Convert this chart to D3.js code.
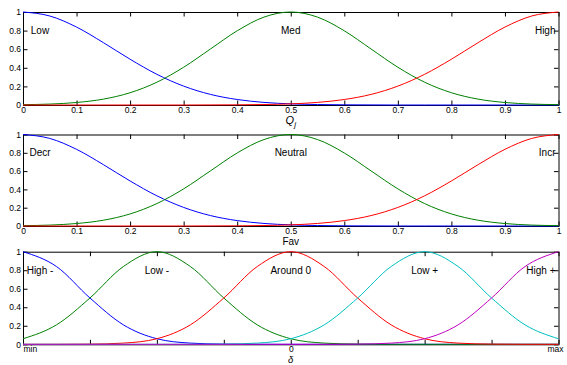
<!DOCTYPE html>
<html>
<head>
<meta charset="utf-8">
<script src="https://cdn.jsdelivr.net/npm/d3@7"></script>
<style>
  html, body { margin: 0; padding: 0; background: #fff; }
  svg { display: block; }
</style>
</head>
<body>
<svg id="chart" width="567" height="365"></svg>
<script>
// Sample points of the membership functions on the normalised universe [0, 1]
const unitGrid = [0, 0.05, 0.1, 0.15, 0.2, 0.25, 0.3, 0.35, 0.4, 0.45, 0.5,
                  0.55, 0.6, 0.65, 0.7, 0.75, 0.8, 0.85, 0.9, 0.95, 1];

// Q_j : Low / Med / High
const qLow  = [1, 0.957, 0.838, 0.671, 0.492, 0.330, 0.203, 0.114, 0.059, 0.028, 0.012,
               0.005, 0.002, 0.001, 0, 0, 0, 0, 0, 0, 0];
const qMed  = [0.004, 0.010, 0.027, 0.063, 0.132, 0.245, 0.406, 0.602, 0.798, 0.945, 1,
               0.945, 0.798, 0.602, 0.406, 0.245, 0.132, 0.063, 0.027, 0.010, 0.004];
const qHigh = [0, 0, 0, 0, 0, 0, 0, 0.001, 0.002, 0.005, 0.012,
               0.028, 0.059, 0.114, 0.203, 0.330, 0.492, 0.671, 0.838, 0.957, 1];

// Fav : Decr / Neutral / Incr
const favDecr    = [1, 0.957, 0.838, 0.671, 0.492, 0.330, 0.203, 0.114, 0.059, 0.028, 0.012,
                    0.005, 0.002, 0.001, 0, 0, 0, 0, 0, 0, 0];
const favNeutral = [0.004, 0.010, 0.027, 0.063, 0.132, 0.245, 0.406, 0.602, 0.798, 0.945, 1,
                    0.945, 0.798, 0.602, 0.406, 0.245, 0.132, 0.063, 0.027, 0.010, 0.004];
const favIncr    = [0, 0, 0, 0, 0, 0, 0, 0.001, 0.002, 0.005, 0.012,
                    0.028, 0.059, 0.114, 0.203, 0.330, 0.492, 0.671, 0.838, 0.957, 1];

// delta : five terms from min to max
const deltaGrid = [0, 0.0625, 0.125, 0.1875, 0.25, 0.3125, 0.375, 0.4375, 0.5,
                   0.5625, 0.625, 0.6875, 0.75, 0.8125, 0.875, 0.9375, 1];
const dHighNeg = [1, 0.84, 0.50, 0.21, 0.06, 0.013, 0.002, 0, 0, 0, 0, 0, 0, 0, 0, 0, 0];
const dLowNeg  = [0.06, 0.21, 0.50, 0.84, 1, 0.84, 0.50, 0.21, 0.06, 0.013, 0.002, 0, 0, 0, 0, 0, 0];
const dAround0 = [0, 0, 0.002, 0.013, 0.06, 0.21, 0.50, 0.84, 1, 0.84, 0.50, 0.21, 0.06, 0.013, 0.002, 0, 0];
const dLowPos  = [0, 0, 0, 0, 0, 0, 0.002, 0.013, 0.06, 0.21, 0.50, 0.84, 1, 0.84, 0.50, 0.21, 0.06];
const dHighPos = [0, 0, 0, 0, 0, 0, 0, 0, 0, 0, 0.002, 0.013, 0.06, 0.21, 0.50, 0.84, 1];

// Term names
const qTerms     = ["Low", "Med", "High"];
const favTerms   = ["Decr", "Neutral", "Incr"];
const deltaTerms = ["High -", "Low -", "Around 0", "Low +", "High +"];

// Tick values and labels
const unitTickValues  = [0, 0.1, 0.2, 0.3, 0.4, 0.5, 0.6, 0.7, 0.8, 0.9, 1];
const unitTickLabels  = ["0", "0.1", "0.2", "0.3", "0.4", "0.5", "0.6", "0.7", "0.8", "0.9", "1"];
const deltaTickValues = [0, 0.125, 0.25, 0.375, 0.5, 0.625, 0.75, 0.875, 1];
const deltaTickLabels = ["min", "", "", "", "0", "", "", "", "max"];
const yTickValues     = [0, 0.2, 0.4, 0.6, 0.8, 1];
const yTickLabels     = ["0", "0.2", "0.4", "0.6", "0.8", "1"];

const palette3 = ["#0000ff", "#008000", "#ff0000"];
const palette5 = ["#0000ff", "#008000", "#ff0000", "#00bfbf", "#bf00bf"];

const svg = d3.select("#chart");
const FONT = "'Liberation Sans', Arial, Helvetica, sans-serif";
const X0 = 23, X1 = 558.5;

function drawPanel(p) {
  const x = d3.scaleLinear().domain([0, 1]).range([X0, X1]);
  const y = d3.scaleLinear().domain([0, 1]).range([p.bottom, p.top]);
  const g = svg.append("g");

  // box
  g.append("rect")
    .attr("x", X0 + 0.5).attr("y", p.top + 0.5)
    .attr("width", X1 - X0).attr("height", p.bottom - p.top)
    .attr("fill", "none").attr("stroke", "#000").attr("stroke-width", 1);

  const styleAxis = sel => {
    sel.select(".domain").remove();
    sel.selectAll(".tick line").attr("stroke", "#000");
    sel.selectAll("text").attr("font-family", FONT).attr("font-size", 8.5).attr("fill", "#000");
  };

  // bottom axis with labels, ticks pointing inward
  const bottom = g.append("g")
    .attr("transform", `translate(0,${p.bottom})`)
    .call(d3.axisBottom(x).tickValues(p.xTicks).tickSize(-4.5).tickPadding(p.xPad)
      .tickFormat((d, i) => p.xLabels[i]))
    .call(styleAxis);
  if (p.edgeLabels) {
    bottom.selectAll(".tick text")
      .attr("text-anchor", (d, i) => i === 0 ? "start" : i === p.xTicks.length - 1 ? "end" : "middle")
      .attr("x", (d, i) => i === 0 ? 0 : i === p.xTicks.length - 1 ? 4.5 : 0);
  }
  g.append("g")
    .attr("transform", `translate(0,${p.top})`)
    .call(d3.axisTop(x).tickValues(p.xTicks).tickSize(-4.5).tickFormat(""))
    .call(styleAxis);

  g.append("g")
    .attr("transform", `translate(${X0},0)`)
    .call(d3.axisLeft(y).tickValues(yTickValues).tickSize(-4.5).tickPadding(2)
      .tickFormat((d, i) => yTickLabels[i]))
    .call(styleAxis);
  g.append("g")
    .attr("transform", `translate(${X1},0)`)
    .call(d3.axisRight(y).tickValues(yTickValues).tickSize(-4.5).tickFormat(""))
    .call(styleAxis);

  // membership curves
  const line = d3.line()
    .x(d => x(d[0]))
    .y(d => y(d[1]))
    .curve(d3.curveMonotoneX);

  p.series.forEach((vals, i) => {
    const pts = p.grid.map((gx, k) => [gx, vals[k]]);
    g.append("path")
      .attr("d", line(pts))
      .attr("fill", "none")
      .attr("stroke", p.colors[i])
      .attr("stroke-width", 1);
  });

  // term names at membership 0.8
  const n = p.series.length;
  p.series.forEach((vals, i) => {
    const peak = p.grid[d3.maxIndex(vals)];
    let tx, anchor;
    if (i === 0) { tx = X0 + 17; anchor = "middle"; }
    else if (i === n - 1) { tx = X1 - 3; anchor = "end"; }
    else { tx = x(peak); anchor = "middle"; }
    g.append("text")
      .attr("x", tx).attr("y", y(0.8)).attr("dy", "0.34em")
      .attr("text-anchor", anchor)
      .attr("font-family", FONT).attr("font-size", 10).attr("fill", "#000")
      .text(p.terms[i]);
  });

  return { x, y, g };
}

// Panel 1: Q_j
const p1 = drawPanel({
  top: 12, bottom: 105, grid: unitGrid,
  series: [qLow, qMed, qHigh], colors: palette3, terms: qTerms,
  xTicks: unitTickValues, xLabels: unitTickLabels, xPad: 2
});
const qLabel = p1.g.append("text")
  .attr("x", p1.x(0.5)).attr("y", 124)
  .attr("text-anchor", "middle")
  .attr("font-family", FONT).attr("font-size", 11).attr("fill", "#000");
qLabel.append("tspan").attr("font-style", "italic").text("Q");
qLabel.append("tspan").attr("font-style", "italic").attr("font-size", 8).attr("dy", 3).text("j");

// Panel 2: Fav
const p2 = drawPanel({
  top: 134.5, bottom: 226, grid: unitGrid,
  series: [favDecr, favNeutral, favIncr], colors: palette3, terms: favTerms,
  xTicks: unitTickValues, xLabels: unitTickLabels, xPad: 2
});
p2.g.append("text")
  .attr("x", p2.x(0.5)).attr("y", 245)
  .attr("text-anchor", "middle")
  .attr("font-family", FONT).attr("font-size", 10).attr("fill", "#000")
  .text("Fav");

// Panel 3: delta
const p3 = drawPanel({
  top: 251.7, bottom: 344.3, grid: deltaGrid,
  series: [dHighNeg, dLowNeg, dAround0, dLowPos, dHighPos], colors: palette5, terms: deltaTerms,
  xTicks: deltaTickValues, xLabels: deltaTickLabels, xPad: 2, edgeLabels: true
});
p3.g.append("text")
  .attr("x", p3.x(0.5)).attr("y", 363)
  .attr("text-anchor", "middle")
  .attr("font-family", FONT).attr("font-size", 9.5).attr("font-style", "italic").attr("fill", "#000")
  .text("δ");
</script>
</body>
</html>
